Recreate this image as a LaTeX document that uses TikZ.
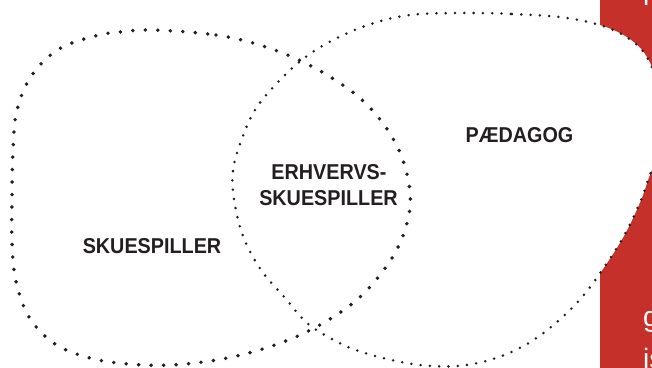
\documentclass[tikz,border=0pt]{standalone}
\usepackage{fontspec}
\setmainfont{Liberation Sans}
\newfontfamily\labfont[FakeStretch=0.92]{Liberation Sans}
\definecolor{vred}{HTML}{C6302A}
\definecolor{ink}{HTML}{231F20}
\begin{document}
\begin{tikzpicture}[x=1pt,y=-1pt,
  bigdots/.style={line width=3.9pt, line cap=round, dash pattern=on 0pt off 12.5pt, draw=ink},
  smalldots/.style={line width=2.8pt, line cap=round, dash pattern=on 0pt off 9.3pt, draw=ink},
  lab/.style={font=\labfont\bfseries\fontsize{21.5}{26}\selectfont, text=ink, inner sep=0pt, anchor=base},
  frag/.style={font=\fontsize{28}{34}\selectfont, text=white, inner sep=0pt, anchor=base west}]
\useasboundingbox (0,0) rectangle (652,367);
\fill[vred] (600,-5) rectangle (660,372);
\node[frag] (f1) at (643,326) {g};
\node[frag] (f2) at (643,368) {is};
\node[frag] (f3) at (643,5) {l};
% right blob (PAEDAGOG)
\path[fill=white, smalldots] plot[smooth cycle, tension=0.6] coordinates {
 (457,13) (512,14) (567,18) (611,29) (641,49) (657,80) (666,115) (662,150)
 (651,172) (641,200) (625,234) (605,266) (583,296) (557,322) (527,344)
 (493,359) (457,366) (420,365) (383,358) (348,347) (315,329) (300,316)
 (286,299) (261,270) (243,236) (234,199) (233,171) (240,144) (255,110)
 (279,81) (307,56) (339,37) (374,23) (410,15)};
% left blob (SKUESPILLER)
\draw[bigdots] plot[smooth cycle, tension=0.6] coordinates {
 (153,30) (216,35) (266,47) (313,67) (355,94) (382,122) (401,155) (410,192)
 (407,223) (392,258) (360,297) (318,326) (272,346) (222,359) (171,365)
 (128,364) (90,358) (55,344) (29,317) (16,281) (12,243) (12,198) (13,150)
 (17,110) (32,75) (59,49) (95,36) (120,32)};
\node[lab] (sk) at (152,253) {SKUESPILLER};
\node[lab] (er1) at (329,179) {ERHVERVS-};
\node[lab] (er2) at (328.5,205) {SKUESPILLER};
\node[lab] (pa) at (519.5,142) {PÆDAGOG};
\end{tikzpicture}
\end{document}
